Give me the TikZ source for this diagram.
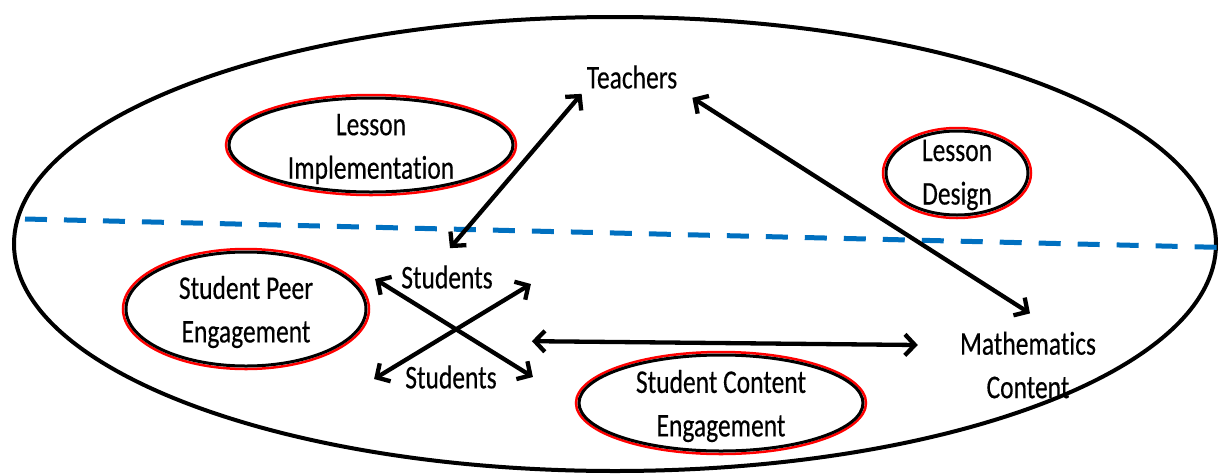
\documentclass[tikz,border=0pt]{standalone}
\usepackage{fontspec}
\setmainfont{Carlito}[Ligatures={NoCommon,NoContextual}, FakeBold=0.4]
\usetikzlibrary{arrows.meta}
\newcommand{\tall}[1]{\scalebox{1}[1.3]{#1}}
\begin{document}
\begin{tikzpicture}[x=1pt,y=-1pt,
  lbl/.style={font=\fontsize{25.5}{43.5}\selectfont, align=center, inner sep=2pt, text=black},
  barb/.tip={Straight Barb[length=10pt,width=21pt]},
  link/.style={line width=4.3pt, barb-barb},
  redring/.style={draw=red, line width=2.5pt},
  blackring/.style={draw=black, line width=3pt},
  bigoval/.style={draw=black, line width=4pt},
  divider/.style={draw={rgb,255:red,0;green,112;blue,192}, line width=5pt, dash pattern=on 22pt off 17pt}]
\useasboundingbox (0,0) rectangle (1219,475);

% outer ellipse
\draw[bigoval] (615,244) ellipse [x radius=601, y radius=227];

% dashed divider
\draw[divider] (25,219) -- (1225,247.5);

% nodes
\node[lbl] (t)  at (632,77)  {\tall{Teachers}};
\node[lbl] (s1) at (447,277) {\tall{Students}};
\node[lbl] (s2) at (451,377) {\tall{Students}};
\node[lbl] (mc) at (1028,365) {\tall{Mathematics}\\\tall{Content}};
\node[lbl] (li) at (371,149) {\tall{Lesson}\\\tall{Implementation}};
\node[lbl] (ld) at (957,175) {\tall{Lesson}\\\tall{Design}};
\node[lbl] (spe) at (246,312) {\tall{Student Peer}\\\tall{Engagement}};
\node[lbl] (sce) at (721,406) {\tall{Student Content}\\\tall{Engagement}};

% rings
\draw[redring]   (371,145) ellipse [x radius=145, y radius=50];
\draw[blackring] (371,145) ellipse [x radius=142, y radius=47];
\draw[redring]   (957,173) ellipse [x radius=74, y radius=45];
\draw[blackring] (957,173) ellipse [x radius=71, y radius=42];
\draw[redring]   (246,309) ellipse [x radius=123, y radius=60];
\draw[blackring] (246,309) ellipse [x radius=120, y radius=57];
\draw[redring]   (721,403) ellipse [x radius=145, y radius=51];
\draw[blackring] (721,403) ellipse [x radius=142, y radius=48];

% connectors
\draw[link] ([shift={(-3,3)}]t.south west) -- ([shift={(3,-15)}]s1.north);
\draw[link] ([shift={(13,7)}]t.south east) -- ([shift={(2,-16)}]mc.north);
\draw[link] ([shift={(-24,2)}]s1.west) -- ([shift={(34,0)}]s2.east);
\draw[link] ([shift={(-29,2)}]s2.west) -- ([shift={(36,7)}]s1.east);
\draw[link] ([shift={(33,-22)}]s2.north east) -- ([shift={(-40,-20)}]mc.west);
\end{tikzpicture}
\end{document}
